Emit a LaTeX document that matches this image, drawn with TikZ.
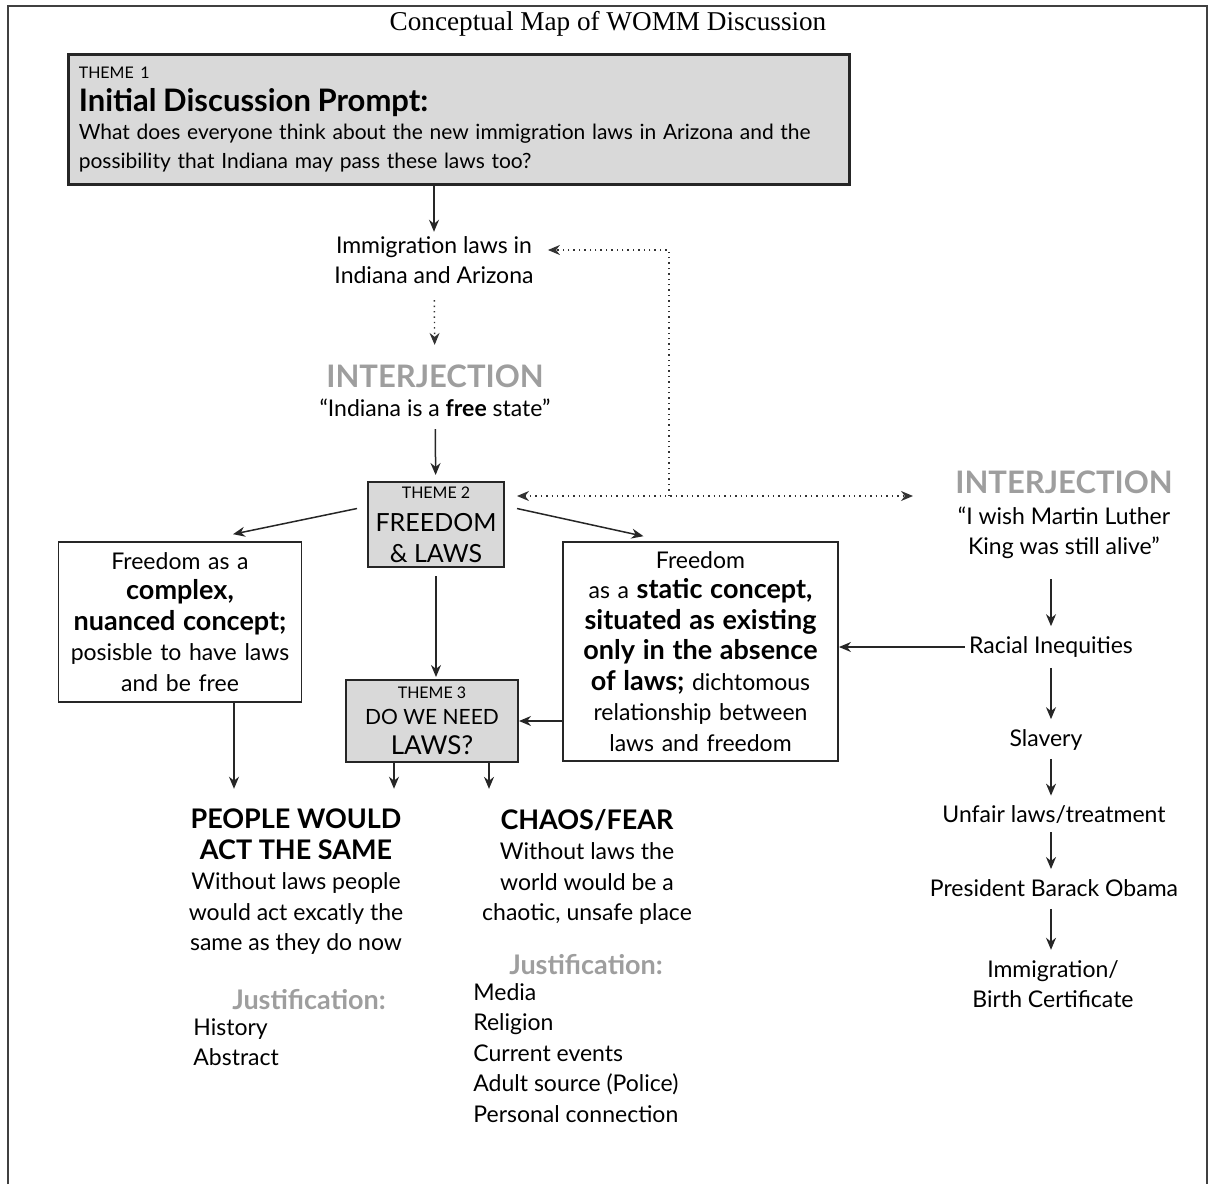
\documentclass[tikz,border=0pt]{standalone}
\usepackage{fontspec}
\setmainfont{Lato}
\newfontfamily\titlefont{Liberation Serif}
\usepackage{xcolor}
\usetikzlibrary{arrows.meta,positioning,calc}
\definecolor{boxgray}{RGB}{217,217,217}
\definecolor{interjgray}{RGB}{158,158,158}
\newcommand{\bodyfont}{\fontsize{11.5}{15.25}\selectfont}
\newcommand{\heavyfont}{\fontsize{13.5}{15.25}\selectfont\bfseries}
\newcommand{\interjfont}{\fontsize{15.5}{15.25}\selectfont\bfseries}
\tikzset{
  themebox/.style={
    rectangle,
    draw=black!85,
    line width=1pt,
    fill=boxgray,
    align=center,
    inner sep=2pt
  },
  conceptbox/.style={
    rectangle,
    draw=black!85,
    line width=0.8pt,
    fill=white,
    align=center,
    font=\bodyfont
  },
  plaintext/.style={
    align=center,
    font=\bodyfont,
    inner sep=2pt
  },
  listtext/.style={
    align=left,
    font=\bodyfont,
    inner sep=0pt
  },
  graylabel/.style={
    font=\heavyfont,
    text=interjgray,
    inner sep=2pt
  },
  flow/.style={-{Stealth[length=6pt,width=5pt]}, line width=0.75pt, black!85},
  dotflow/.style={line width=0.7pt, black!80, dotted}
}

\begin{document}
\begin{tikzpicture}[x=0.5pt,y=-0.5pt]
\useasboundingbox (0,0) rectangle (1210,1184);
\draw[line width=1.2pt, black!75] (8,1184) -- (8,6) -- (1207,6) -- (1207,1184);

\node[font=\titlefont\fontsize{13.6}{16}\selectfont] (title) at (608,24) {Conceptual Map of WOMM Discussion};

% theme 1 prompt
\node[themebox, anchor=north west, minimum width=390.5pt, minimum height=65pt, text width=380pt, align=left, inner sep=5pt, line width=1.3pt] (t1) at (67,53) {%
{\fontsize{8}{9}\selectfont THEME 1\par}%
{\fontsize{15.5}{16.5}\selectfont\bfseries Initial Discussion Prompt:\par}%
{\fontsize{10.5}{14.25}\selectfont What does everyone think about the new immigration laws in Arizona and the\\ possibility that Indiana may pass these laws too?\par}};

\node[plaintext] (immig) at (434,260) {Immigration laws in\\ Indiana and Arizona};
\node[plaintext] (interA) at (435,391) {{\color{interjgray}\interjfont INTERJECTION}\\[-1pt] “Indiana is a {\bfseries free} state”};

% themes 2 and 3
\node[themebox, minimum width=68pt, minimum height=42.5pt, font=\fontsize{12.5}{15.5}\selectfont] (t2) at (436,524.5) {{\fontsize{8}{9}\selectfont THEME 2}\\[1pt] FREEDOM\\ \& LAWS};
\node[themebox, minimum width=86pt, minimum height=41pt, font=\fontsize{13}{15}\selectfont] (t3) at (432,721) {{\fontsize{8}{9}\selectfont THEME 3}\\[-2pt] {\fontsize{10.5}{12}\selectfont DO WE NEED}\\ LAWS?};

\node[conceptbox, minimum width=121pt, minimum height=80pt, text width=115pt] (leftbox) at (180,622) {Freedom as a\\ {\heavyfont complex,}\\ {\heavyfont nuanced concept;}\\ posisble to have laws\\ and be free};
\node[conceptbox, minimum width=135.5pt, minimum height=109.5pt, text width=131pt] (rightbox) at (700.5,651.5) {Freedom\\ as a {\heavyfont static concept,}\\ {\heavyfont situated as existing}\\ {\heavyfont only in the absence}\\ {\heavyfont of laws;} dichtomous\\ relationship between\\ laws and freedom};

% outcomes
\node[plaintext] (people) at (296,882) {{\heavyfont PEOPLE WOULD}\\ {\heavyfont ACT THE SAME}\\ Without laws people\\ would act excatly the\\ same as they do now};
\node[graylabel] (justA) at (309,1000) {Justification:};
\node[listtext, anchor=north west] (listA) at (193,1018) {History\\ Abstract};

\node[plaintext] (chaos) at (587,867) {{\heavyfont CHAOS/FEAR}\\ Without laws the\\ world would be a\\ chaotic, unsafe place};
\node[graylabel] (justB) at (586,965) {Justification:};
\node[listtext, anchor=north west] (listB) at (473,983) {Media\\ Religion\\ Current events\\ Adult source (Police)\\ Personal connection};

% right column
\node[plaintext] (interB) at (1064,515) {{\color{interjgray}\interjfont INTERJECTION}\\ “I wish Martin Luther\\ King was still alive”};
\node[plaintext] (racial) at (1051,647) {Racial Inequities};
\node[plaintext] (slavery) at (1046,740) {Slavery};
\node[plaintext] (unfair) at (1054,815) {Unfair laws/treatment};
\node[plaintext] (obama) at (1054,888) {President Barack Obama};
\node[plaintext] (birth) at (1053,984) {Immigration/\\ Birth Certificate};

\coordinate (jn) at (669,496);
\coordinate (dotend) at (913,496);

\draw[flow] (t1.south -| immig) -- (immig);
\draw[dotflow, -{Stealth[length=6pt,width=5pt]}, shorten <=6pt, shorten >=8pt] (immig) -- (interA);
\draw[flow, shorten <=4pt, shorten >=3pt] (interA) -- (t2);
\draw[dotflow, {Stealth[length=6pt,width=5pt]}-{Stealth[length=6pt,width=5pt]}] ([xshift=6pt]t2.east |- jn) -- (dotend);
\draw[dotflow, -{Stealth[length=6pt,width=5pt]}] (jn) |- ([xshift=5pt,yshift=5pt]immig.east);
\draw[flow] ([xshift=-5pt,yshift=8pt]t2.west) -- ([xshift=26.5pt,yshift=3.5pt]leftbox.north);
\draw[flow] ([xshift=6pt,yshift=8pt]t2.east) -- ([xshift=-28.5pt,yshift=2.5pt]rightbox.north);
\draw[flow, shorten <=4pt, shorten >=1pt] (t2.south) -- (t2.south |- t3.north);
\draw[flow] (rightbox.west |- t3) -- (t3.east);
\draw[flow] (racial.west) -- (racial.west -| rightbox.east);
\draw[flow, shorten >=8pt] ([xshift=27pt]leftbox.south) -- ([xshift=27pt]leftbox.south |- people.north);
\draw[flow, shorten >=8pt] ([xshift=-19pt]t3.south) -- ([xshift=-19pt]t3.south |- people.north);
\draw[flow, shorten >=8pt] ([xshift=28.5pt]t3.south) -- ([xshift=28.5pt]t3.south |- chaos.north);

\draw[flow, shorten <=8pt, shorten >=3pt] (interB.south -| racial) -- (racial);
\draw[flow, shorten <=3pt, shorten >=3pt] (racial) -- (slavery.north -| racial);
\draw[flow, shorten <=2pt, shorten >=3pt] (slavery.south -| racial) -- (unfair.north -| racial);
\draw[flow, shorten <=2pt, shorten >=3pt] (unfair.south -| racial) -- (obama.north -| racial);
\draw[flow, shorten <=4pt, shorten >=3pt] (obama.south -| racial) -- (birth.north -| racial);
\end{tikzpicture}
\end{document}
